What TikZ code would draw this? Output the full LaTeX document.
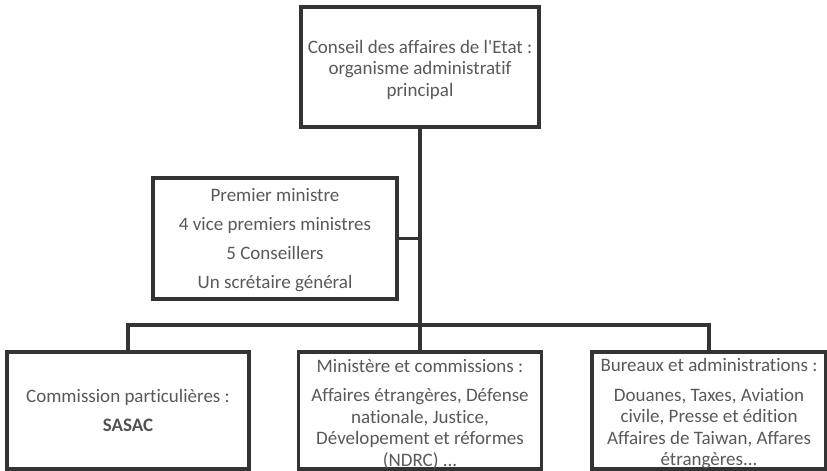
\documentclass[tikz,border=0pt]{standalone}
\usepackage{fontspec}
\setmainfont{Carlito}[Ligatures={NoCommon,TeXOff}]
\usetikzlibrary{calc}
\definecolor{boxline}{HTML}{333333}
\definecolor{boxtext}{HTML}{595959}
\newcommand\toppad[1]{\rule{0pt}{#1}}

\begin{document}
\begin{tikzpicture}[x=1pt,y=-1pt,
  box/.style={draw=boxline, line width=3.5pt, fill=white, align=center, text=boxtext,
    inner sep=0pt, font=\fontsize{19}{21.5}\selectfont},
  wire/.style={draw=boxline, line width=3.5pt}]

\useasboundingbox (0,0) rectangle (827,471);

\node[box, minimum width=238, minimum height=120] (conseil) at (420,67)
  {\toppad{19pt}Conseil des affaires de l'Etat :\\organisme administratif\\principal};
\node[box, minimum width=244, minimum height=121] (gouv) at (275,238.5)
  {\toppad{16pt}Premier ministre\\[7.5pt]4 vice premiers ministres\\[7.5pt]5 Conseillers\\[7.5pt]Un scrétaire général};

\node[box, minimum width=242, minimum height=117] (commission) at (128,410.5)
  {Commission particulières :\\[7pt]\textbf{\color{boxline!85}SASAC}};
\node[box, minimum width=243, minimum height=117] (ministere) at (420,410.5)
  {\toppad{20pt}Ministère et commissions :\\[8pt]Affaires étrangères, Défense\\nationale, Justice,\\Dévelopement et réformes\\(NDRC) ...};
\node[box, minimum width=234, minimum height=117] (bureaux) at (709,410.5)
  {\toppad{20pt}Bureaux et administrations :\\[8pt]Douanes, Taxes, Aviation\\civile, Presse et édition\\Affaires de Taiwan, Affares\\étrangères...};

\coordinate (bus) at (420,325);

\draw[wire] (conseil.south) -- (ministere.north);
\draw[wire] (gouv.east) -- (gouv.east -| conseil.south);
\draw[wire] (commission.north) |- (bus) -| (bureaux.north);
\end{tikzpicture}
\end{document}
